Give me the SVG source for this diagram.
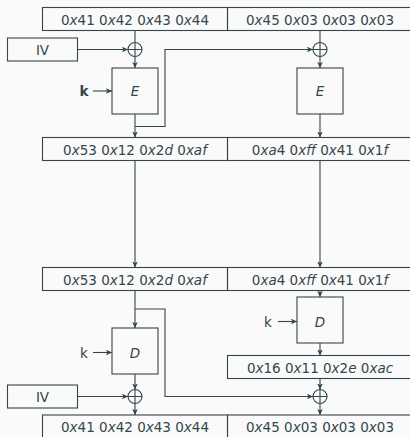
<svg xmlns="http://www.w3.org/2000/svg" width="410" height="437" viewBox="0 0 410 437">
<style>
.bx{fill:none;stroke:#34454b;stroke-width:1.1}
.ln{fill:none;stroke:#34454b;stroke-width:1.1}
.ar{fill:none;stroke:#34454b;stroke-width:1.1;marker-end:url(#ah)}
.t{font-family:"DejaVu Sans",sans-serif;font-size:13.5px;fill:#34454b;text-anchor:middle}
.i{font-style:italic}
.b{font-weight:bold}
</style>
<defs>
<marker id="ah" markerUnits="userSpaceOnUse" markerWidth="7" markerHeight="6" refX="6" refY="3" orient="auto">
<path d="M0,0.2 L6,3 L0,5.8 L1.4,3 Z" fill="#34454b"/>
</marker>
</defs>
<rect width="410" height="437" fill="#fafafa"/>
<g id="connectors">
<!-- top left -->
<line class="ln" x1="135" y1="30.5" x2="135" y2="42.5"/>
<line class="ar" x1="77.5" y1="49.5" x2="128" y2="49.5"/>
<line class="ar" x1="135" y1="56.5" x2="135" y2="68"/>
<line class="ar" x1="93" y1="91" x2="112" y2="91"/>
<line class="ar" x1="135" y1="114" x2="135" y2="137.5"/>
<polyline class="ar" points="135,126.5 165,126.5 165,49.5 313,49.5"/>
<!-- top right -->
<line class="ln" x1="320" y1="30.5" x2="320" y2="42.5"/>
<line class="ar" x1="320" y1="56.5" x2="320" y2="68"/>
<line class="ar" x1="320" y1="114" x2="320" y2="137.5"/>
<!-- middle -->
<line class="ar" x1="135" y1="160.5" x2="135" y2="267.5"/>
<line class="ar" x1="320" y1="160.5" x2="320" y2="267.5"/>
<!-- bottom left -->
<line class="ar" x1="135" y1="290.5" x2="135" y2="328"/>
<polyline class="ar" points="135,309 165,309 165,396.5 313,396.5"/>
<line class="ar" x1="93" y1="352.5" x2="112" y2="352.5"/>
<line class="ar" x1="135" y1="374" x2="135" y2="389.5"/>
<line class="ar" x1="77.5" y1="396.5" x2="128" y2="396.5"/>
<line class="ar" x1="135" y1="403.5" x2="135" y2="415"/>
<!-- bottom right -->
<line class="ar" x1="320" y1="290.5" x2="320" y2="297"/>
<line class="ar" x1="278" y1="321.5" x2="297" y2="321.5"/>
<line class="ar" x1="320" y1="343" x2="320" y2="355.5"/>
<line class="ar" x1="320" y1="378.5" x2="320" y2="389.5"/>
<line class="ar" x1="320" y1="403.5" x2="320" y2="415"/>
</g>
<g id="row1">
<rect class="bx" x="42.5" y="7.5" width="185" height="23"/>
<rect class="bx" x="227.5" y="7.5" width="185" height="23"/>
<text class="t" x="135" y="25">0<tspan class="i">x</tspan>41 0<tspan class="i">x</tspan>42 0<tspan class="i">x</tspan>43 0<tspan class="i">x</tspan>44</text>
<text class="t" x="320" y="25">0<tspan class="i">x</tspan>45 0<tspan class="i">x</tspan>03 0<tspan class="i">x</tspan>03 0<tspan class="i">x</tspan>03</text>
</g>
<g id="iv1">
<rect class="bx" x="7.5" y="38" width="70" height="23"/>
<text class="t" x="42.5" y="54.5">IV</text>
</g>
<g id="xor1">
<circle class="ln" cx="135" cy="49.5" r="7"/>
<path class="ln" d="M128,49.5H142M135,42.5V56.5"/>
</g>
<g id="xor2">
<circle class="ln" cx="320" cy="49.5" r="7"/>
<path class="ln" d="M313,49.5H327M320,42.5V56.5"/>
</g>
<g id="enc1">
<rect class="bx" x="112" y="68" width="46" height="46"/>
<text class="t i" x="135" y="96">E</text>
<text class="t b" x="84" y="96">k</text>
</g>
<g id="enc2">
<rect class="bx" x="297" y="68" width="46" height="46"/>
<text class="t i" x="320" y="96">E</text>
</g>
<g id="row2">
<rect class="bx" x="42.5" y="137.5" width="185" height="23"/>
<rect class="bx" x="227.5" y="137.5" width="185" height="23"/>
<text class="t" x="135" y="155">0<tspan class="i">x</tspan>53 0<tspan class="i">x</tspan>12 0<tspan class="i">x</tspan>2<tspan class="i">d</tspan> 0<tspan class="i">xaf</tspan></text>
<text class="t" x="320" y="155">0<tspan class="i">xa</tspan>4 0<tspan class="i">xff</tspan> 0<tspan class="i">x</tspan>41 0<tspan class="i">x</tspan>1<tspan class="i">f</tspan></text>
</g>
<g id="row3">
<rect class="bx" x="42.5" y="267.5" width="185" height="23"/>
<rect class="bx" x="227.5" y="267.5" width="185" height="23"/>
<text class="t" x="135" y="285">0<tspan class="i">x</tspan>53 0<tspan class="i">x</tspan>12 0<tspan class="i">x</tspan>2<tspan class="i">d</tspan> 0<tspan class="i">xaf</tspan></text>
<text class="t" x="320" y="285">0<tspan class="i">xa</tspan>4 0<tspan class="i">xff</tspan> 0<tspan class="i">x</tspan>41 0<tspan class="i">x</tspan>1<tspan class="i">f</tspan></text>
</g>
<g id="dec1">
<rect class="bx" x="112" y="328" width="46" height="46"/>
<text class="t i" x="135" y="357.5">D</text>
<text class="t" x="84" y="357.5">k</text>
</g>
<g id="dec2">
<rect class="bx" x="297" y="297" width="46" height="46"/>
<text class="t i" x="320" y="326.5">D</text>
<text class="t" x="268" y="326.5">k</text>
</g>
<g id="row4">
<rect class="bx" x="227.5" y="355.5" width="185" height="23"/>
<text class="t" x="320" y="373">0<tspan class="i">x</tspan>16 0<tspan class="i">x</tspan>11 0<tspan class="i">x</tspan>2<tspan class="i">e</tspan> 0<tspan class="i">xac</tspan></text>
</g>
<g id="iv2">
<rect class="bx" x="7.5" y="385" width="70" height="23"/>
<text class="t" x="42.5" y="401.5">IV</text>
</g>
<g id="xor3">
<circle class="ln" cx="135" cy="396.5" r="7"/>
<path class="ln" d="M128,396.5H142M135,389.5V403.5"/>
</g>
<g id="xor4">
<circle class="ln" cx="320" cy="396.5" r="7"/>
<path class="ln" d="M313,396.5H327M320,389.5V403.5"/>
</g>
<g id="row5">
<rect class="bx" x="42.5" y="415" width="185" height="23"/>
<rect class="bx" x="227.5" y="415" width="185" height="23"/>
<text class="t" x="135" y="432.3">0<tspan class="i">x</tspan>41 0<tspan class="i">x</tspan>42 0<tspan class="i">x</tspan>43 0<tspan class="i">x</tspan>44</text>
<text class="t" x="320" y="432.3">0<tspan class="i">x</tspan>45 0<tspan class="i">x</tspan>03 0<tspan class="i">x</tspan>03 0<tspan class="i">x</tspan>03</text>
</g>
</svg>
